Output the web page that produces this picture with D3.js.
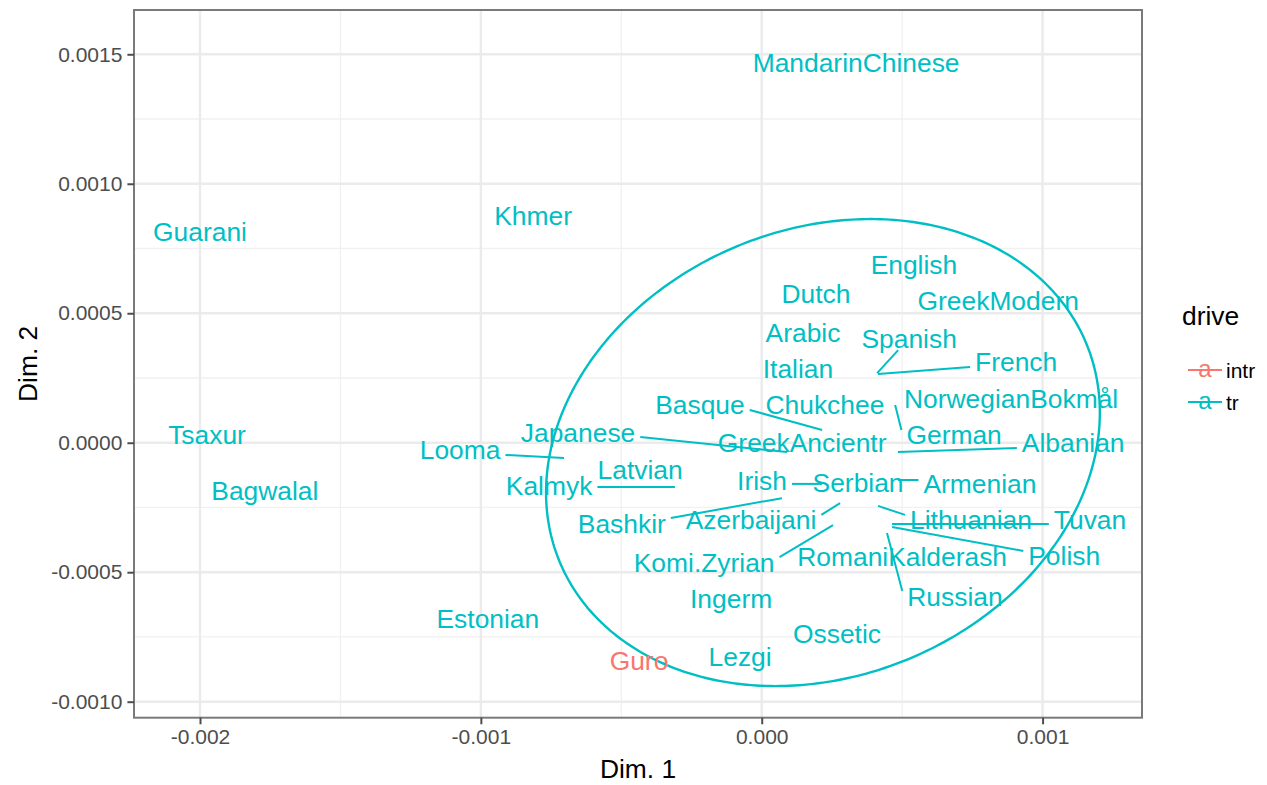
<!DOCTYPE html>
<html>
<head>
<meta charset="utf-8">
<script src="https://cdn.jsdelivr.net/npm/d3@7"></script>
<style>
  body { margin: 0; background: #ffffff; }
  text { font-family: "Liberation Sans", Arial, Helvetica, sans-serif; }
</style>
</head>
<body>
<svg id="chart" width="1267" height="785"></svg>
<script>
// Language coordinates on the first two dimensions (data point positions)
const languages = ["MandarinChinese", "Khmer", "Guarani", "English", "Dutch", "GreekModern", "Arabic",
  "Spanish", "French", "Italian", "NorwegianBokmål", "Basque", "Chukchee", "German", "GreekAncientr",
  "Japanese", "Looma", "Albanian", "Latvian", "Kalmyk", "Irish", "Serbian", "Armenian", "Bashkir",
  "Azerbaijani", "Lithuanian", "Tuvan", "Polish", "Russian", "Komi.Zyrian", "RomaniKalderash",
  "Ingerm", "Ossetic", "Lezgi", "Guro", "Estonian", "Tsaxur", "Bagwalal"];

const dim1 = [0.000336, -0.000814, -0.002000, 0.000542, 0.000193, 0.000842, 0.000147,
  0.000411, 0.000414, 0.000129, 0.000888, 0.000215, 0.000225, 0.000475, 0.000144,
  0.000090, -0.000704, 0.000485, -0.000433, -0.000309, 0.000215, 0.000343, 0.000485, 0.000072,
  0.000279, 0.000414, 0.000464, 0.000464, 0.000446, 0.000254, 0.000500,
  -0.000109, 0.000268, -0.000077, -0.000437, -0.000975, -0.001975, -0.001769];

const dim2 = [0.001470, 0.000879, 0.000814, 0.000690, 0.000578, 0.000551, 0.000424,
  0.000269, 0.000265, 0.000288, 0.000169, 0.000049, 0.000146, 0.000146, -0.000001,
  -0.000036, -0.000059, -0.000036, -0.000105, -0.000171, -0.000159, -0.000152, -0.000144, -0.000214,
  -0.000233, -0.000244, -0.000314, -0.000325, -0.000349, -0.000318, -0.000441,
  -0.000603, -0.000735, -0.000824, -0.000839, -0.000677, 0.000030, -0.000183];

// Repelled label positions
const labelDim1 = [0.000336, -0.000814, -0.002000, 0.000542, 0.000193, 0.000842, 0.000147,
  0.000525, 0.000906, 0.000129, 0.000888, -0.000220, 0.000225, 0.000685, 0.000144,
  -0.000654, -0.001074, 0.001109, -0.000433, -0.000757, 0.000001, 0.000343, 0.000777, -0.000498,
  -0.000038, 0.000745, 0.001169, 0.001077, 0.000688, -0.000205, 0.000500,
  -0.000109, 0.000268, -0.000077, -0.000437, -0.000975, -0.001975, -0.001769];

const labelDim2 = [0.001470, 0.000879, 0.000814, 0.000690, 0.000578, 0.000551, 0.000424,
  0.000404, 0.000312, 0.000288, 0.000169, 0.000146, 0.000146, 0.000030, -0.000001,
  0.000041, -0.000028, -0.000001, -0.000105, -0.000167, -0.000144, -0.000152, -0.000156, -0.000310,
  -0.000298, -0.000298, -0.000298, -0.000437, -0.000592, -0.000461, -0.000441,
  -0.000603, -0.000735, -0.000824, -0.000839, -0.000677, 0.000030, -0.000183];

const drive = languages.map(d => d === "Guro" ? "intr" : "tr");

const driveLevels = ["intr", "tr"];
const driveColors = ["#F8766D", "#00BFC4"];

// Normal-theory ellipse for the "tr" group: centre and shape matrix (xx, xy, yy)
const ellipseCenter = [0.000218, -0.000038];
const ellipseShape = [9.72e-7, 1.522e-7, 8.131e-7];

const xTicks = [-0.002, -0.001, 0.000, 0.001];
const xTickLabels = ["-0.002", "-0.001", "0.000", "0.001"];
const xMinor = [-0.0015, -0.0005, 0.0005];
const yTicks = [-0.0010, -0.0005, 0.0000, 0.0005, 0.0010, 0.0015];
const yTickLabels = ["-0.0010", "-0.0005", "0.0000", "0.0005", "0.0010", "0.0015"];
const yMinor = [-0.00075, -0.00025, 0.00025, 0.00075, 0.00125];

const svg = d3.select("#chart");
const W = 1267, H = 785;
const panel = { left: 134, right: 1142, top: 10, bottom: 717.7 };

svg.append("rect").attr("width", W).attr("height", H).attr("fill", "#ffffff");

const x = d3.scaleLinear().domain([-0.002235, 0.001354]).range([panel.left, panel.right]);
const y = d3.scaleLinear().domain([-0.0010618, 0.001671]).range([panel.bottom, panel.top]);
const color = d3.scaleOrdinal().domain(driveLevels).range(driveColors);

const g = svg.append("g");

// Grid: minor then major
g.selectAll("line.xminor").data(xMinor).join("line")
  .attr("x1", d => x(d)).attr("x2", d => x(d)).attr("y1", panel.top).attr("y2", panel.bottom)
  .attr("stroke", "#f1f1f1").attr("stroke-width", 1.3);
g.selectAll("line.yminor").data(yMinor).join("line")
  .attr("y1", d => y(d)).attr("y2", d => y(d)).attr("x1", panel.left).attr("x2", panel.right)
  .attr("stroke", "#f1f1f1").attr("stroke-width", 1.3);
g.selectAll("line.xmajor").data(xTicks).join("line")
  .attr("x1", d => x(d)).attr("x2", d => x(d)).attr("y1", panel.top).attr("y2", panel.bottom)
  .attr("stroke", "#ebebeb").attr("stroke-width", 2.4);
g.selectAll("line.ymajor").data(yTicks).join("line")
  .attr("y1", d => y(d)).attr("y2", d => y(d)).attr("x1", panel.left).attr("x2", panel.right)
  .attr("stroke", "#ebebeb").attr("stroke-width", 2.4);

// Ellipse
const R11 = Math.sqrt(ellipseShape[0]);
const R12 = ellipseShape[1] / R11;
const R22 = Math.sqrt(ellipseShape[2] - R12 * R12);
const ellPts = d3.range(0, 361).map(a => {
  const t = a * Math.PI / 180;
  return [ellipseCenter[0] + Math.cos(t) * R11,
          ellipseCenter[1] + Math.cos(t) * R12 + Math.sin(t) * R22];
});
g.append("path")
  .attr("d", d3.line().x(d => x(d[0])).y(d => y(d[1]))(ellPts))
  .attr("fill", "none").attr("stroke", color("tr")).attr("stroke-width", 2.4);

// Labels (measure first to place segments)
const FS = 26.4;
const rows = languages.map((name, i) => ({
  name, drive: drive[i],
  px: x(dim1[i]), py: y(dim2[i]),
  lx: x(labelDim1[i]), ly: y(labelDim2[i])
}));

const segLayer = g.append("g");
const textLayer = g.append("g");

const texts = textLayer.selectAll("text").data(rows).join("text")
  .attr("x", d => d.lx).attr("y", d => d.ly + FS * 0.36)
  .attr("text-anchor", "middle")
  .attr("font-size", FS)
  .attr("fill", d => color(d.drive))
  .text(d => d.name);

texts.each(function(d) { d.w = this.getComputedTextLength(); });

// Leader segments from each point to its label box
rows.forEach(d => {
  const hw = d.w / 2 + 5;
  const x0 = d.lx - hw, x1 = d.lx + hw;
  let ex, ey;
  if (d.px >= x0 && d.px <= x1) {
    // point lies above/below the label: aim at the label centre
    const hh = 12;
    const dy = d.py - d.ly, dx = d.px - d.lx;
    if (Math.abs(dy) <= hh) return;
    const t = hh / Math.abs(dy);
    ex = d.lx + dx * t; ey = d.ly + dy * t;
  } else {
    const hh = 5;
    ex = d.px < x0 ? x0 : x1;
    ey = Math.max(d.ly - hh, Math.min(d.ly + hh, d.py));
  }
  if (Math.hypot(d.px - ex, d.py - ey) < 6) return;
  segLayer.append("line")
    .attr("x1", d.px).attr("y1", d.py).attr("x2", ex).attr("y2", ey)
    .attr("stroke", color(d.drive)).attr("stroke-width", 2);
});

// Panel border
g.append("rect")
  .attr("x", panel.left).attr("y", panel.top)
  .attr("width", panel.right - panel.left).attr("height", panel.bottom - panel.top)
  .attr("fill", "none").attr("stroke", "#7a7a7a").attr("stroke-width", 2);

// Axes
const xAxis = d3.axisBottom(x).tickValues(xTicks).tickFormat((d, i) => xTickLabels[i])
  .tickSize(6.6).tickPadding(5);
const yAxis = d3.axisLeft(y).tickValues(yTicks).tickFormat((d, i) => yTickLabels[i])
  .tickSize(6.6).tickPadding(5);

const gx = svg.append("g").attr("transform", `translate(0,${panel.bottom})`).call(xAxis);
const gy = svg.append("g").attr("transform", `translate(${panel.left},0)`).call(yAxis);
[gx, gy].forEach(a => {
  a.select(".domain").remove();
  a.selectAll(".tick line").attr("stroke", "#4d4d4d").attr("stroke-width", 2);
  a.selectAll(".tick text").attr("fill", "#4d4d4d").attr("font-size", 21)
    .attr("font-family", '"Liberation Sans", Arial, Helvetica, sans-serif');
});

// Axis titles
svg.append("text").attr("x", (panel.left + panel.right) / 2).attr("y", 778)
  .attr("text-anchor", "middle").attr("font-size", FS).attr("fill", "#000").text("Dim. 1");
svg.append("text")
  .attr("transform", `translate(37,${(panel.top + panel.bottom) / 2}) rotate(-90)`)
  .attr("text-anchor", "middle").attr("font-size", FS).attr("fill", "#000").text("Dim. 2");

// Legend
const leg = svg.append("g");
leg.append("text").attr("x", 1182).attr("y", 325).attr("font-size", FS).attr("fill", "#000").text("drive");
const keyY = [370, 402];
driveLevels.forEach((lvl, i) => {
  const ky = keyY[i];
  leg.append("line").attr("x1", 1188).attr("x2", 1222).attr("y1", ky).attr("y2", ky)
    .attr("stroke", color(lvl)).attr("stroke-width", 2);
  leg.append("text").attr("x", 1205).attr("y", ky + 7).attr("text-anchor", "middle")
    .attr("font-size", 24).attr("fill", color(lvl)).text("a");
  leg.append("text").attr("x", 1226).attr("y", ky + 7.5).attr("font-size", 21)
    .attr("fill", "#000").text(lvl);
});
</script>
</body>
</html>
